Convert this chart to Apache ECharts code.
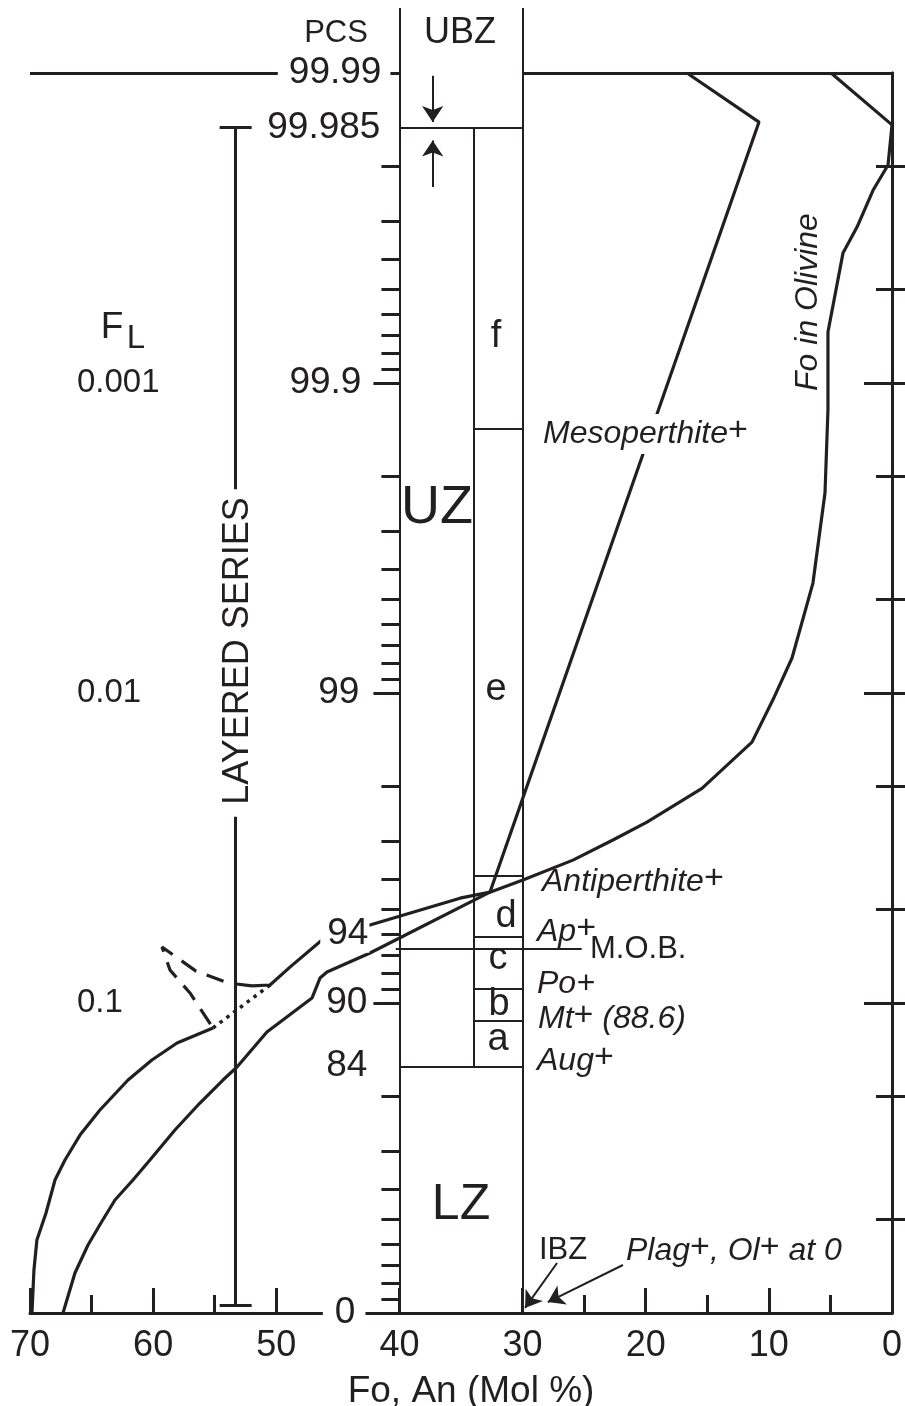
<!DOCTYPE html>
<html>
<head>
<meta charset="utf-8">
<script src="https://cdn.jsdelivr.net/npm/echarts@6/dist/echarts.min.js"></script>
<style>
  html, body { margin: 0; padding: 0; background: #fff; }
  #chart { width: 905px; height: 1406px; }
</style>
</head>
<body>
<div id="chart"></div>
<script>
// x = Fo / An (mol %), y = F_L (fraction of liquid remaining), PCS = 100 * (1 - F_L)
const xMinorTicks = [65, 55, 25, 15, 5];
const flLabels = [0.001, 0.01, 0.1];
const flMinor = [0.0002, 0.0005, 0.002, 0.005, 0.02, 0.05, 0.2, 0.5];
const pcsLabels = [99.99, 99.985, 99.9, 99, 94, 90, 84, 0];
const pcsMajor = [99.9, 99, 90];

// Fo in olivine, upper solid part
const foOlivine = [[4.95,0.0001],[0,0.000147],[0.32,0.000198],[1.54,0.000239],[2.84,0.000314],[3.98,0.000381],
  [5.2,0.000685],[5.2,0.00122],[5.44,0.00226],[6.42,0.00442],[8.12,0.00771],[9.66,0.0105],[11.37,0.0144],
  [15.43,0.0203],[19.9,0.0261],[22.66,0.0298],[25.91,0.0346],[29.97,0.0401],[32.65,0.0439],[35.08,0.0459],
  [42.39,0.056],[46.29,0.0626],[48.89,0.0766],[50.51,0.0875],[51.97,0.0881]];
// dashed excursion and dotted link
const foDashed = [[51.97,0.0881],[53.92,0.0862],[56.52,0.0789],[59.28,0.066],[58.63,0.0783],[57.01,0.0928],[55.14,0.1204]];
const foDotted = [[50.51,0.0875],[55.14,0.1204]];
// Fo in olivine, lower solid part
const foOlivineLow = [[55.14,0.1204],[58.06,0.1346],[60.1,0.1527],[62.04,0.1772],[64.32,0.2214],[65.94,0.2667],
  [67.16,0.321],[67.97,0.3724],[68.7,0.4758],[69.44,0.5815],[69.68,0.7265],[69.84,1]];
// An in plagioclase
const anPlag = [[16.65,0.0001],[10.8,0.000144],[32.65,0.0439],[42.39,0.069],[45.88,0.0794],[46.45,0.0831],
  [47.1,0.0964],[50.76,0.1241],[53.19,0.1609],[54.33,0.1772],[56.2,0.2102],[58.23,0.2569],[60.26,0.321],
  [61.64,0.3724],[63.1,0.432],[64.24,0.5125],[65.29,0.6035],[66.35,0.743],[67.32,1]];

// zone column
const columnTop = 0.0000617;
const zoneWalls = [[40, columnTop, 1], [30, columnTop, 1], [34, 0.00015, 0.16]];      // x, F from, F to
const zoneFloors = [[40,30,0.00015],[34,30,0.0014],[34,30,0.039],[34,30,0.061],[40.3,25.2,0.067],
  [34,30,0.09],[34,30,0.114],[40,30,0.16]];                                            // x from, x to, F
const frameTop = [[70, 40], [30, 0]];
const layeredBar = [53.3, 0.00015, 0.942];
const layeredCaps = [54.6, 52.0];
const arrows = [
  [[37.3,0.000102],[37.3,0.000144]],
  [[37.3,0.000233],[37.3,0.000165]],
  [[27.2,0.69],[29.8,0.963]],
  [[21.85,0.70],[27.95,0.922]]
];

const INK = '#231f20';
const FONT = "'Liberation Sans', Arial, Helvetica, sans-serif";
const GRID = { left: 30, right: 13, top: 73, bottom: 93, outerBoundsMode: 'none', containLabel: false };
const plotW = 905 - GRID.left - GRID.right;
const midOffset = -(70 - 40) / 70 * plotW;

const toF = p => +(1 - p / 100).toPrecision(6);
const midMinor = [];
[0.0001, 0.001, 0.01, 0.1].forEach(d => { for (let k = 2; k <= 9; k++) midMinor.push(+(d * k).toPrecision(6)); });

// label placement for the PCS scale
const pcsLabelLayout = {
  '99.99': { bg: true, pad: [0, 9, 0, 11], gap: 3 },
  '99.985': { gap: 13 },
  '99.9': { gap: 32 },
  '99': { gap: 34 },
  '94': { bg: true, pad: [0, 1, 0, 7], gap: 24 },
  '90': { gap: 26 },
  '84': { gap: 26 },
  '0': { bg: true, pad: [0, 10, 0, 12], gap: 28 }
};
const midRich = {};
pcsLabels.forEach((p, i) => {
  const s = pcsLabelLayout[String(p)];
  midRich['t' + i] = { fontSize: 37, fontFamily: FONT, color: INK, lineHeight: 40,
    backgroundColor: s.bg ? '#fff' : 'transparent', padding: s.pad || [0, 0, 0, 0] };
  midRich['g' + i] = { width: s.gap, height: 10 };
});

const hidden = { show: false };
function logAxis(extra) {
  return Object.assign({
    type: 'log', logBase: 10, min: 0.0001, max: 1, inverse: true, gridIndex: 0,
    splitLine: hidden, axisLine: hidden, axisTick: hidden, axisLabel: hidden, minorTick: hidden
  }, extra);
}
const tickLine = { color: INK, width: 3 };

function seg(list) { return list.map(c => ({ coords: c })); }

function T(x, y, text, size, o) {
  o = o || {};
  const st = {
    text, font: (o.italic ? 'italic ' : '') + size + 'px ' + FONT, fill: INK,
    align: o.align || 'left', textAlign: o.align || 'left',
    verticalAlign: 'middle', textVerticalAlign: 'middle'
  };
  if (o.bg) { st.backgroundColor = '#fff'; st.padding = o.pad || [2, 2, 2, 2]; }
  return { type: 'text', x, y, z: 100, rotation: o.rot || 0, style: st };
}
// italic mineral label with raised "+" signs
function M(x, y, text, size, o) {
  const el = T(x, y, text, size, o);
  el.style.rich = {
    a: { fontSize: size, fontStyle: 'italic', fontFamily: FONT, fill: INK, lineHeight: 40 },
    s: { fontSize: size + 2, fontFamily: FONT, fill: INK, lineHeight: 24, verticalAlign: 'top' }
  };
  return el;
}

const chart = echarts.init(document.getElementById('chart'));
chart.setOption({
  animation: false,
  backgroundColor: '#fff',
  textStyle: { fontFamily: FONT, color: INK },
  grid: GRID,
  xAxis: [
    {
      type: 'value', min: 0, max: 70, interval: 10, inverse: true, position: 'bottom',
      axisLine: { lineStyle: { color: INK, width: 3 } },
      axisTick: { inside: true, length: 25, lineStyle: tickLine },
      axisLabel: { fontSize: 36, color: INK, margin: 15 },
      splitLine: hidden,
      name: 'Fo, An (Mol %)', nameLocation: 'middle', nameGap: 60,
      nameTextStyle: { fontSize: 37, color: INK, padding: [0, 0, 0, 20] }
    },
    {
      type: 'value', min: 0, max: 70, interval: 10, inverse: true, position: 'bottom',
      axisLine: hidden, axisLabel: hidden, splitLine: hidden,
      axisTick: { inside: true, length: 18, lineStyle: tickLine, customValues: xMinorTicks }
    }
  ],
  yAxis: [
    logAxis({ position: 'left',
      axisLine: { show: true, lineStyle: { color: INK, width: 3 } },
      axisTick: { show: true, inside: true, length: 35, lineStyle: tickLine, customValues: flLabels },
      axisLabel: { show: true, inside: true, margin: 47, fontSize: 33, color: INK, customValues: flLabels,
        formatter: v => String(+v.toPrecision(3)) } }),
    logAxis({ position: 'left',
      axisTick: { show: true, inside: true, length: 24, lineStyle: tickLine, customValues: flMinor } }),
    logAxis({ position: 'right',
      axisLine: { show: true, lineStyle: { color: INK, width: 3 } },
      axisTick: { show: true, inside: true, length: 28, lineStyle: tickLine, customValues: flLabels } }),
    logAxis({ position: 'right',
      axisTick: { show: true, inside: true, length: 16, lineStyle: tickLine, customValues: flMinor } }),
    logAxis({ position: 'left', offset: midOffset, z: 5,
      axisTick: { show: true, length: 26, lineStyle: tickLine, customValues: pcsMajor.map(toF) },
      axisLabel: { show: true, margin: 6, customValues: pcsLabels.map(toF), rich: midRich,
        formatter: v => {
          const p = +(100 * (1 - v)).toFixed(3);
          const i = pcsLabels.indexOf(p);
          return i < 0 ? '' : '{t' + i + '|' + p + '}{g' + i + '|}';
        } } }),
    logAxis({ position: 'left', offset: midOffset,
      axisTick: { show: true, length: 18, lineStyle: tickLine, customValues: midMinor } })
  ],
  series: [
    { type: 'lines', coordinateSystem: 'cartesian2d', clip: false, silent: true,
      lineStyle: { color: INK, width: 3, opacity: 1 },
      data: seg(frameTop.map(r => [[r[0], 0.0001], [r[1], 0.0001]])) },
    { type: 'lines', coordinateSystem: 'cartesian2d', clip: false, silent: true,
      lineStyle: { color: INK, width: 2, opacity: 1 },
      data: seg(zoneWalls.map(r => [[r[0], r[1]], [r[0], r[2]]])) },
    { type: 'lines', coordinateSystem: 'cartesian2d', clip: false, silent: true,
      lineStyle: { color: INK, width: 1.8, opacity: 1 },
      data: seg(zoneFloors.map(r => [[r[0], r[2]], [r[1], r[2]]])) },
    { type: 'lines', coordinateSystem: 'cartesian2d', clip: false, silent: true,
      lineStyle: { color: INK, width: 3, opacity: 1 },
      data: seg([
        [[layeredBar[0], layeredBar[1]], [layeredBar[0], layeredBar[2]]],
        [[layeredCaps[0], layeredBar[1]], [layeredCaps[1], layeredBar[1]]],
        [[layeredCaps[0], layeredBar[2]], [layeredCaps[1], layeredBar[2]]]
      ]) },
    { type: 'lines', coordinateSystem: 'cartesian2d', clip: false, silent: true,
      symbol: ['none', 'arrow'], symbolSize: [0, 16],
      lineStyle: { color: INK, width: 2, opacity: 1 },
      data: seg(arrows) },
    { type: 'line', name: 'Fo', data: foOlivine, symbol: 'none', clip: false,
      lineStyle: { color: INK, width: 3.2 } },
    { type: 'line', name: 'Fo dashed', data: foDashed, symbol: 'none', clip: false,
      lineStyle: { color: INK, width: 3.2, type: [18, 11] } },
    { type: 'line', name: 'Fo dotted', data: foDotted, symbol: 'none', clip: false,
      lineStyle: { color: INK, width: 3.5, type: [3.5, 5] } },
    { type: 'line', name: 'Fo low', data: foOlivineLow, symbol: 'none', clip: false,
      lineStyle: { color: INK, width: 3.2 } },
    { type: 'line', name: 'An', data: anPlag, symbol: 'none', clip: false,
      lineStyle: { color: INK, width: 3.2 } }
  ],
  graphic: { elements: [
    T(336, 33, 'PCS', 31, { align: 'center' }),
    T(460, 33, 'UBZ', 36, { align: 'center' }),
    T(112, 328, 'F', 37, { align: 'center' }),
    T(136, 339, 'L', 33, { align: 'center' }),
    T(437, 508, 'UZ', 54, { align: 'center' }),
    T(461, 1205, 'LZ', 50, { align: 'center' }),
    T(496, 337, 'f', 38, { align: 'center' }),
    T(496, 690, 'e', 38, { align: 'center' }),
    T(506, 917, 'd', 38, { align: 'center' }),
    T(498, 959, 'c', 38, { align: 'center' }),
    T(499, 1005, 'b', 38, { align: 'center' }),
    T(498, 1040, 'a', 38, { align: 'center' }),
    M(541, 434, '{a|Mesoperthite}{s|+}', 32, { bg: true, pad: [0, 2, 0, 2] }),
    M(542, 882, '{a|Antiperthite}{s|+}', 32),
    M(537, 932, '{a|Ap}{s|+}', 32),
    T(590, 949, 'M.O.B.', 31),
    M(537, 984, '{a|Po+}', 32),
    M(538, 1019, '{a|Mt}{s|+}{a| (88.6)}', 32),
    M(537, 1061, '{a|Aug}{s|+}', 32),
    T(563, 1250, 'IBZ', 31, { align: 'center' }),
    M(626, 1251, '{a|Plag}{s|+}{a|, Ol}{s|+}{a| at 0}', 32),
    T(808, 302, 'Fo in Olivine', 32, { italic: true, align: 'center', rot: Math.PI / 2 }),
    T(238, 653, 'LAYERED SERIES', 36, { align: 'center', rot: Math.PI / 2, bg: true, pad: [0, 8, 0, 12] })
  ] }
});
</script>
</body>
</html>
